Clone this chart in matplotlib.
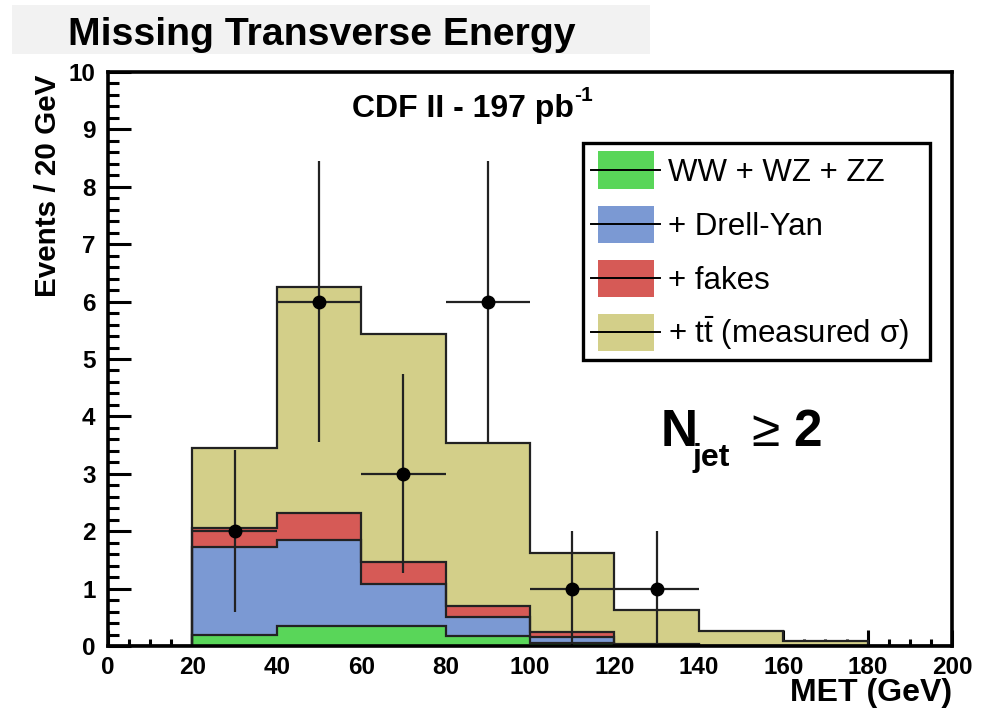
import numpy as np
import matplotlib
matplotlib.use("Agg")
import matplotlib.pyplot as plt
from matplotlib.patches import Patch, Rectangle
from matplotlib.lines import Line2D
from matplotlib.legend_handler import HandlerBase
from matplotlib.ticker import MultipleLocator

plt.rcParams['font.family'] = ['Liberation Sans', 'DejaVu Sans']
plt.rcParams['mathtext.fontset'] = 'custom'
plt.rcParams['mathtext.rm'] = 'Liberation Sans'
plt.rcParams['mathtext.it'] = 'Liberation Sans:italic'
plt.rcParams['mathtext.bf'] = 'Liberation Sans:bold'
plt.rcParams['mathtext.sf'] = 'Liberation Sans'

# ---------------- data ----------------
bin_edges = [0, 20, 40, 60, 80, 100, 120, 140, 160, 180, 200]
diboson = [0, 0.19, 0.35, 0.34, 0.18, 0.06, 0.01, 0, 0, 0]
drell_yan = [0, 1.53, 1.50, 0.74, 0.32, 0.10, 0.01, 0, 0, 0]
fakes = [0, 0.34, 0.47, 0.38, 0.19, 0.08, 0.01, 0, 0, 0]
ttbar = [0, 1.39, 3.93, 3.97, 2.85, 1.38, 0.59, 0.27, 0.09, 0]

data_x = [30, 50, 70, 90, 110, 130]
data_y = [2, 6, 3, 6, 1, 1]
data_yerr = [1.41, 2.45, 1.73, 2.45, 1.0, 1.0]
data_xerr = [10, 10, 10, 10, 10, 10]

labels = ['WW + WZ + ZZ', '+ Drell-Yan', '+ fakes',
          r'+ $\mathregular{t\bar{t}}$ (measured $\mathregular{\sigma}$)']
colors = ['#59d659', '#7b99d3', '#d65a56', '#d3cf89']
x_ticks = [0, 20, 40, 60, 80, 100, 120, 140, 160, 180, 200]
y_ticks = [0, 1, 2, 3, 4, 5, 6, 7, 8, 9, 10]


class PatchLineHandler(HandlerBase):
    def create_artists(self, legend, orig_handle, xdescent, ydescent,
                       width, height, fontsize, trans):
        x0 = -xdescent
        y0 = -ydescent
        inset = 0.09 * width
        rect = Rectangle((x0 + inset, y0), width - 2 * inset, height,
                         facecolor=orig_handle.get_facecolor(),
                         edgecolor='none', transform=trans)
        line = Line2D([x0, x0 + width], [y0 + height / 2, y0 + height / 2],
                      color='black', linewidth=1.4, transform=trans)
        return [rect, line]


# ---------------- figure ----------------
W, H = 988, 710
fig = plt.figure(figsize=(W / 100, H / 100), dpi=100)
ax = fig.add_axes([108 / W, 1 - 646 / H, (952 - 108) / W, (646 - 72) / H])

edges = np.array(bin_edges, dtype=float)
c1 = np.array(diboson)
c2 = c1 + np.array(drell_yan)
c3 = c2 + np.array(fakes)
c4 = c3 + np.array(ttbar)

stacks = [c4, c3, c2, c1]
stack_cols = [colors[3], colors[2], colors[1], colors[0]]
for vals, col in zip(stacks, stack_cols):
    ax.stairs(vals, edges, fill=True, color=col, zorder=2)
    ax.stairs(vals, edges, fill=False, color='#222222', linewidth=1.6, zorder=3)

ax.errorbar(data_x, data_y, yerr=data_yerr, xerr=data_xerr, fmt='o',
            color='black', ecolor='#222222', elinewidth=1.6, markersize=9,
            capsize=0, zorder=5)

ax.set_xlim(0, 200)
ax.set_ylim(0, 10)
ax.set_xticks(x_ticks)
ax.set_yticks(y_ticks)
ax.xaxis.set_minor_locator(MultipleLocator(5))
ax.yaxis.set_minor_locator(MultipleLocator(0.2))
ax.tick_params(axis='x', which='major', direction='in', length=11.5, width=2.2,
               labelsize=17.5, pad=7, top=False)
ax.tick_params(axis='x', which='minor', direction='in', length=5, width=2.2, top=False)
ax.tick_params(axis='y', which='major', direction='in', length=16.5, width=2.2,
               labelsize=17.5, pad=9, right=False)
ax.tick_params(axis='y', which='minor', direction='in', length=8, width=2.2, right=False)
for lab in ax.get_xticklabels() + ax.get_yticklabels():
    lab.set_fontweight('bold')
for sp in ax.spines.values():
    sp.set_linewidth(2.6)
    sp.set_zorder(6)

ax.set_xlabel('MET (GeV)', fontsize=23, fontweight='bold', loc='right')
ax.xaxis.set_label_coords(1.0, -0.056)
ax.set_ylabel('Events / 20 GeV', fontsize=21.3, fontweight='bold', loc='top')
ax.yaxis.set_label_coords(-0.055, 0.995)

# legend
handles = [Patch(facecolor=col) for col in colors]
lx0 = (583 - 108) / 844
ly0 = (646 - 358) / 574
lw = (930 - 583) / 844
lh = (358 - 143) / 574
leg = ax.legend(handles, labels, loc='upper left', mode='expand',
                handler_map={Patch: PatchLineHandler()},
                bbox_to_anchor=(lx0, ly0, lw, lh),
                borderaxespad=0, fontsize=22.5, frameon=True, fancybox=False,
                edgecolor='black', framealpha=1, borderpad=0.27,
                handlelength=2.2, handleheight=1.47, handletextpad=0.26,
                labelspacing=0.53)
leg.get_frame().set_linewidth(2.4)
leg.set_zorder(7)

# title box
fig.patches.append(Rectangle((12 / W, 1 - 54 / H), (650 - 12) / W, 49 / H,
                             transform=fig.transFigure, facecolor='#f2f2f2',
                             edgecolor='none', zorder=0))
fig.text(68 / W, 1 - 45 / H, 'Missing Transverse Energy', fontsize=28.3,
         fontweight='bold', va='baseline', ha='left')

fig.text(352 / W, 1 - 117 / H, 'CDF II - 197 pb', fontsize=23,
         fontweight='bold', va='baseline', ha='left')
fig.text(574 / W, 1 - 101 / H, '-1', fontsize=15,
         fontweight='bold', va='baseline', ha='left')

# N_jet >= 2
fig.text(661 / W, 1 - 446 / H, 'N', fontsize=37, fontweight='bold',
         va='baseline', ha='left')
fig.text(692 / W, 1 - 466 / H, 'jet', fontsize=23, fontweight='bold',
         va='baseline', ha='left')
fig.text(751 / W, 1 - 446 / H, '\u2265', fontsize=37,
         va='baseline', ha='left')
fig.text(793 / W, 1 - 446 / H, '2', fontsize=37, fontweight='bold',
         va='baseline', ha='left')

fig.savefig('out.png', dpi=100)
